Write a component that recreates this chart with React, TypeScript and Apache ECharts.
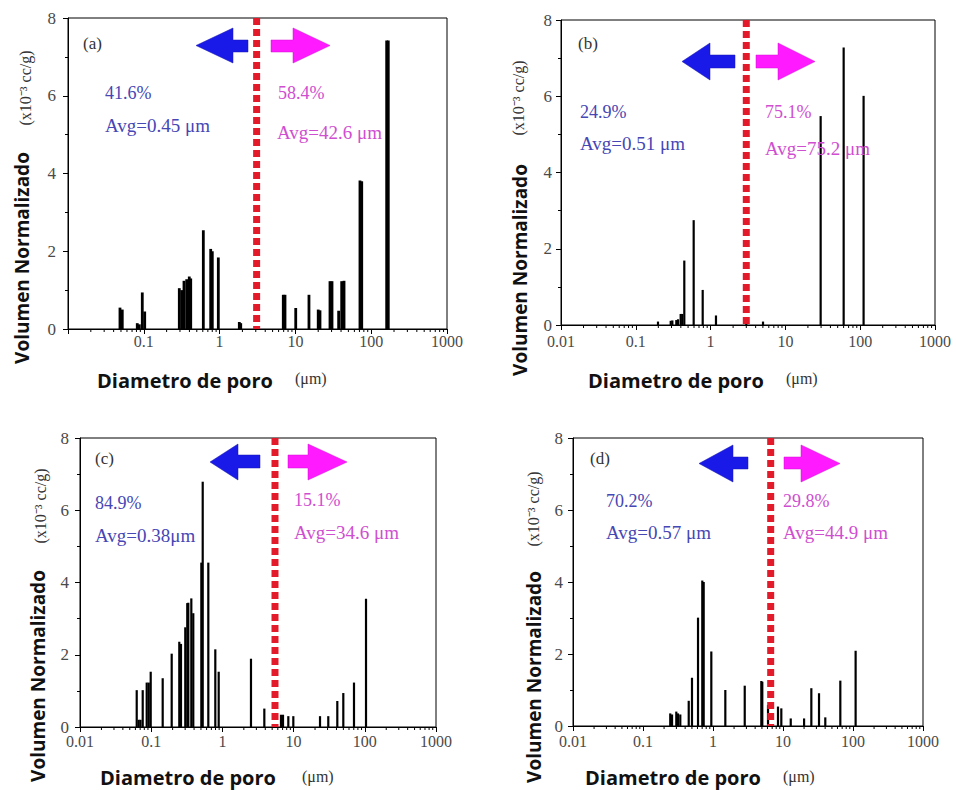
import React, { useEffect, useRef } from 'react';
import * as echarts from 'echarts';

// ---------- data ----------
const xTickLabels = ['0.01', '0.1', '1', '10', '100', '1000'];
const minorMultipliers = [2, 3, 4, 5, 6, 7, 8, 9];
const minorDecades = [-2, -1, 0, 1, 2];

const diamA = [0.0485, 0.052, 0.082, 0.0873, 0.0955, 0.1028, 0.294, 0.316, 0.339, 0.368, 0.398, 0.416, 0.61, 0.763, 0.801, 0.962, 1.82, 1.9, 6.92, 7.29, 10.1, 15.1, 20.0, 21.1, 28.6, 30.4, 37.2, 40.8, 43.8, 71.1, 75.0, 160, 168];
const volA = [0.55, 0.5, 0.15, 0.12, 0.94, 0.45, 1.05, 1.0, 1.24, 1.28, 1.35, 1.3, 2.54, 2.06, 2.0, 1.84, 0.18, 0.15, 0.88, 0.88, 0.54, 0.88, 0.5, 0.48, 1.23, 1.23, 0.47, 1.23, 1.24, 3.82, 3.8, 7.42, 7.42];

const diamB = [0.198, 0.293, 0.308, 0.348, 0.367, 0.398, 0.418, 0.445, 0.594, 0.784, 1.18, 3.0, 5.02, 29.6, 60.1, 111];
const volB = [0.09, 0.11, 0.12, 0.13, 0.15, 0.29, 0.29, 1.69, 2.75, 0.92, 0.25, 0.06, 0.09, 5.48, 7.28, 6.01];

const diamC = [0.0626, 0.0667, 0.0707, 0.076, 0.0865, 0.0923, 0.0984, 0.145, 0.194, 0.248, 0.262, 0.301, 0.321, 0.332, 0.366, 0.39, 0.506, 0.529, 0.634, 0.795, 0.887, 2.52, 3.88, 6.65, 7.1, 8.43, 9.91, 23.5, 30.7, 41.1, 49.9, 70.5, 104];
const volC = [1.02, 0.2, 0.2, 1.02, 1.23, 1.23, 1.53, 1.35, 2.03, 2.36, 2.3, 2.76, 3.43, 3.44, 3.56, 3.15, 4.55, 6.79, 4.55, 2.15, 1.53, 1.89, 0.51, 0.34, 0.34, 0.3, 0.3, 0.3, 0.3, 0.72, 0.94, 1.23, 3.55];

const diamD = [0.245, 0.26, 0.299, 0.316, 0.341, 0.45, 0.501, 0.611, 0.703, 0.736, 0.946, 1.5, 2.84, 4.9, 5.06, 6.11, 8.48, 9.46, 12.9, 20.0, 25.4, 32.7, 40.2, 65.9, 109];
const volD = [0.35, 0.32, 0.4, 0.35, 0.32, 0.7, 1.34, 3.01, 4.04, 4.0, 2.07, 1.0, 1.12, 1.25, 1.23, 0.58, 0.54, 0.49, 0.21, 0.21, 1.05, 0.91, 0.24, 1.26, 2.09];

const splitDiam = [3.08, 3.0, 5.48, 6.67];
const panelTags = ['(a)', '(b)', '(c)', '(d)'];
const leftPct = ['41.6%', '24.9%', '84.9%', '70.2%'];
const leftAvg = ['Avg=0.45 μm', 'Avg=0.51 μm', 'Avg=0.38μm', 'Avg=0.57 μm'];
const rightPct = ['58.4%', '75.1%', '15.1%', '29.8%'];
const rightAvg = ['Avg=42.6 μm', 'Avg=75.2 μm', 'Avg=34.6 μm', 'Avg=44.9 μm'];
const yTitle = 'Volumen Normalizado';
const yUnit = '(x10⁻³ cc/g)';
const xTitle = 'Diametro de poro';
const xUnit = '(μm)';

const diams = [diamA, diamB, diamC, diamD];
const vols = [volA, volB, volC, volD];

// ---------- layout ----------
const grids = [
  { left: 68, top: 18, width: 379, height: 311 },
  { left: 561, top: 20, width: 374, height: 305 },
  { left: 80, top: 438, width: 356, height: 289 },
  { left: 573, top: 438, width: 350, height: 288 },
];
const yLabelMargin = [12, 9, 11, 10];
const xLabelMargin = [4, 8, 6, 7];
const barWidth = [2.8, 2.2, 2.2, 2.2];

const textPos = [
  { tag: [83, 43], lp: [105, 93], la: [105, 125], rp: [278, 93], ra: [277, 132], yt: [22, 258], yu: [25, 88], xt: [97, 380], xu: [295, 378] },
  { tag: [578, 43], lp: [580, 112], la: [580, 143], rp: [765, 112], ra: [765, 148], yt: [520, 270], yu: [518, 98], xt: [588, 380], xu: [786, 378] },
  { tag: [95, 458], lp: [95, 503], la: [95, 535], rp: [294, 500], ra: [294, 532], yt: [38, 676], yu: [40, 506], xt: [100, 777], xu: [302, 776] },
  { tag: [590, 458], lp: [606, 501], la: [606, 532], rp: [783, 501], ra: [783, 532], yt: [534, 677], yu: [533, 509], xt: [585, 777], xu: [783, 776] },
];

const arrows = [
  { bt: 196, bhb: 233, bse: 248, ms: 271, mhb: 293, mt: 330, ht: 28, hb: 63, st: 40, sb: 52 },
  { bt: 682, bhb: 710, bse: 735, ms: 756, mhb: 778, mt: 815, ht: 43, hb: 80, st: 55, sb: 68 },
  { bt: 210, bhb: 238, bse: 260, ms: 288, mhb: 308, mt: 347, ht: 444, hb: 480, st: 455, sb: 468 },
  { bt: 699, bhb: 733, bse: 748, ms: 784, mhb: 801, mt: 840, ht: 445, hb: 482, st: 457, sb: 469 },
];

const SERIF = 'Liberation Serif, serif';
const SANS = 'Open Sans, sans-serif';
const BLUE_TEXT = '#4646b4';
const MAG_TEXT = '#d04ed0';

function buildOption() {
  const minorData: number[][] = [];
  minorDecades.forEach((k) => minorMultipliers.forEach((m) => minorData.push([m * Math.pow(10, k), 0])));

  const grid: any[] = [];
  const xAxis: any[] = [];
  const yAxis: any[] = [];
  const series: any[] = [];
  const graphic: any[] = [];

  for (let i = 0; i < 4; i++) {
    const g = grids[i];
    grid.push({ ...g, show: true, borderColor: '#000', borderWidth: 1, backgroundColor: 'transparent' });
    xAxis.push({
      type: 'log', logBase: 10, min: 0.01, max: 1000, gridIndex: i,
      axisLine: { show: true, lineStyle: { color: '#000', width: 1 } },
      axisTick: { show: true, length: 5, inside: false, lineStyle: { color: '#000' } },
      splitLine: { show: false },
      axisLabel: {
        margin: xLabelMargin[i], color: '#4a4a4a', fontFamily: 'Liberation Serif', fontSize: 16,
        formatter: (v: number) => {
          const idx = Math.round(Math.log10(v)) + 2;
          if (i === 0 && idx === 0) return '';
          return xTickLabels[idx] ?? '';
        },
      },
    });
    yAxis.push({
      type: 'value', min: 0, max: 8, interval: 2, gridIndex: i,
      axisLine: { show: true, lineStyle: { color: '#000', width: 1 } },
      axisTick: { show: true, length: 5, lineStyle: { color: '#000' } },
      minorTick: { show: true, splitNumber: 2, length: 3, lineStyle: { color: '#000' } },
      splitLine: { show: false },
      axisLabel: { margin: yLabelMargin[i], color: '#4a4a4a', fontFamily: 'Liberation Serif', fontSize: 17 },
    });

    const bw = barWidth[i];
    series.push({
      type: 'custom', xAxisIndex: i, yAxisIndex: i, z: 3,
      data: diams[i].map((d, j) => [d, vols[i][j]]),
      renderItem: (params: any, api: any) => {
        const p0 = api.coord([api.value(0), 0]);
        const p1 = api.coord([api.value(0), api.value(1)]);
        return {
          type: 'rect',
          shape: { x: p0[0] - bw / 2, y: p1[1], width: bw, height: p0[1] - p1[1] },
          style: { fill: '#000' },
        };
      },
    });
    series.push({
      type: 'custom', xAxisIndex: i, yAxisIndex: i, z: 3, clip: false,
      data: minorData,
      renderItem: (params: any, api: any) => {
        const p = api.coord([api.value(0), 0]);
        return {
          type: 'line',
          shape: { x1: p[0], y1: p[1], x2: p[0], y2: p[1] + 3 },
          style: { stroke: '#000', lineWidth: 1 },
        };
      },
    });
    series.push({
      type: 'line', xAxisIndex: i, yAxisIndex: i, z: 5, symbol: 'none', silent: true,
      data: [[splitDiam[i], 8], [splitDiam[i], 0]],
      lineStyle: { color: '#e31a2a', width: 7, type: [7, 4], cap: 'butt' },
    });

    const t = textPos[i];
    const txt = (pos: number[], text: string, fill: string, font: string) => ({
      type: 'text', x: pos[0], y: pos[1], z: 10,
      style: { text, fill, font, textAlign: 'left', textVerticalAlign: 'middle' },
    });
    graphic.push(txt(t.tag, panelTags[i], '#333', `17px ${SERIF}`));
    graphic.push(txt(t.lp, leftPct[i], BLUE_TEXT, `18px ${SERIF}`));
    graphic.push(txt(t.la, leftAvg[i], BLUE_TEXT, `19px ${SERIF}`));
    graphic.push(txt(t.rp, rightPct[i], MAG_TEXT, `18px ${SERIF}`));
    graphic.push(txt(t.ra, rightAvg[i], MAG_TEXT, `19px ${SERIF}`));
    graphic.push(txt(t.xt, xTitle, '#111', `bold 20px ${SANS}`));
    graphic.push(txt(t.xu, xUnit, '#333', `16px ${SERIF}`));
    graphic.push({
      type: 'text', x: t.yt[0], y: t.yt[1], rotation: Math.PI / 2, z: 10,
      style: { text: yTitle, fill: '#111', font: `bold 19px ${SANS}`, textAlign: 'center', textVerticalAlign: 'middle' },
    });
    graphic.push({
      type: 'text', x: t.yu[0], y: t.yu[1], rotation: Math.PI / 2, z: 10,
      style: { text: yUnit, fill: '#333', font: `16px ${SERIF}`, textAlign: 'center', textVerticalAlign: 'middle' },
    });

    const a = arrows[i];
    const cy = (a.ht + a.hb) / 2;
    graphic.push({
      type: 'polygon', z: 8,
      shape: { points: [[a.bt, cy], [a.bhb, a.ht], [a.bhb, a.st], [a.bse, a.st], [a.bse, a.sb], [a.bhb, a.sb], [a.bhb, a.hb]] },
      style: { fill: '#1a1ae8', stroke: '#1414b0', lineWidth: 0.5 },
    });
    graphic.push({
      type: 'polygon', z: 8,
      shape: { points: [[a.mt, cy], [a.mhb, a.ht], [a.mhb, a.st], [a.ms, a.st], [a.ms, a.sb], [a.mhb, a.sb], [a.mhb, a.hb]] },
      style: { fill: '#ff1aff', stroke: '#d010d0', lineWidth: 0.5 },
    });
  }

  return {
    animation: false, backgroundColor: '#fff',
    textStyle: { fontFamily: 'Liberation Serif', fontSize: 16 },
    grid, xAxis, yAxis, series, graphic,
  };
}

export default function App() {
  const ref = useRef<HTMLDivElement>(null);
  useEffect(() => {
    if (!ref.current) return;
    const chart = echarts.init(ref.current, undefined, { renderer: 'svg' });
    chart.setOption(buildOption() as any);
    return () => chart.dispose();
  }, []);
  return <div ref={ref} style={{ position: 'absolute', left: 0, top: 0, width: 956, height: 790 }} />;
}
